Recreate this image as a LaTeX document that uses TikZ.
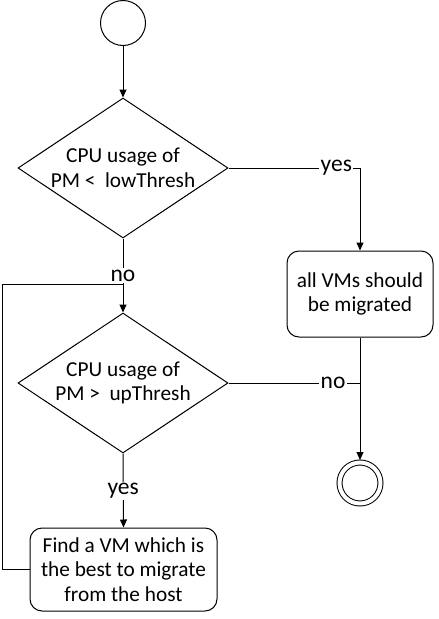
\documentclass[tikz,border=0pt]{standalone}
\usepackage{fontspec}
\setmainfont{Carlito}
\usetikzlibrary{shapes.geometric,arrows.meta}
\begin{document}
\begin{tikzpicture}[x=1pt,y=-1pt,
 every node/.style={font=\fontsize{21.3}{24.5}\selectfont},
 base/.style={draw=black, line width=1pt},
 decision/.style={base, diamond, aspect=1.5, inner sep=0pt, minimum width=210pt, minimum height=140pt, align=center},
 action/.style={base, rounded corners=12pt, align=center, inner sep=0pt},
 startnode/.style={base, circle, minimum size=45pt, inner sep=0pt},
 endnode/.style={circle, draw=black, double=white, double distance=4pt, line width=1pt, minimum size=41pt, inner sep=0pt, outer sep=2.5pt},
 conn/.style={line width=1pt, -{Triangle[length=8pt,width=7pt]}},
 plainline/.style={line width=1pt},
 lbl/.style={fill=white, inner sep=1.5pt, font=\fontsize{23.5}{26}\selectfont},
 ylbl/.style={lbl, text height=11pt, text depth=4pt},
]
\useasboundingbox (0,0) rectangle (439,619);
\node[startnode] (s) at (123,23) {};
\node[decision] (d1) at (123,168) {CPU usage of\\PM <\ \ lowThresh};
\node[decision] (d2) at (123,383) {CPU usage of\\PM >\ \ upThresh};
\node[action, minimum width=146pt, minimum height=86pt] (b1) at (360,294) {all VMs should\\be migrated};
\node[action, minimum width=187pt, minimum height=83pt] (b2) at (123.5,569.5) {Find a VM which is\\the best to migrate\\from the host};
\node[endnode] (e) at (360,483) {};
\coordinate (lp) at (2,284);
\coordinate (m1) at (123,284);

\draw[conn] (s) -- (d1);
\draw[plainline] (d1.east) -- node[ylbl,pos=0.82]{yes} (d1.east -| b1.north);
\draw[conn] (d1.east -| b1.north) -- (b1.north);
\draw[conn] (d1.south) -- node[lbl]{no} (d2.north);
\draw[plainline] (b2.west) -- (lp |- b2.west) -- (lp) -- (m1);
\draw[conn] (d2.south) -- node[ylbl]{yes} (b2.north);
\draw[plainline] (d2.east) -- node[lbl,pos=0.795]{no} (d2.east -| b1.south);
\draw[conn] (b1.south) -- (e.north);
\end{tikzpicture}
\end{document}
